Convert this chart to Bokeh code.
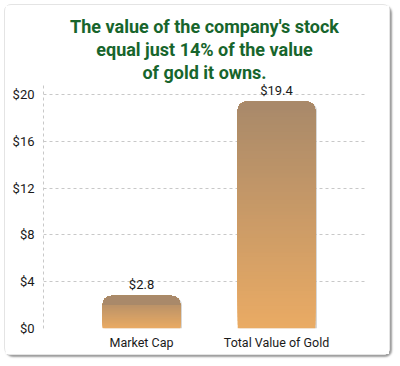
from bokeh.plotting import figure
from bokeh.models import ColumnDataSource, FixedTicker, Range1d, Title
from bokeh.core.properties import value
from bokeh.embed import file_html
from bokeh.resources import INLINE

# ---- data ----
categories = ["Market Cap", "Total Value of Gold"]
values = [2.8, 19.4]
value_labels = ["$2.8", "$19.4"]
y_ticks = [0, 4, 8, 12, 16, 20]
y_tick_labels = ["$0", "$4", "$8", "$12", "$16", "$20"]
title_lines = ["The value of the company's stock",
               "equal just 14% of the value",
               "of gold it owns."]

FONT = "Roboto"
GREEN = "#17652c"
TOP_RGB = (168, 137, 106)
BOT_RGB = (234, 171, 100)

p = figure(width=386, height=351, output_backend="svg", toolbar_location=None,
           x_range=Range1d(-0.726, 1.659), y_range=Range1d(0, 21.03),
           min_border_left=38, min_border_right=26, min_border_top=77, min_border_bottom=28,
           background_fill_color="white", border_fill_color="white")
p.outline_line_color = None
p.styles = {"border": "1px solid #e4e4e4", "border-radius": "7px",
            "box-shadow": "2px 2px 2px #9c9c9c",
            "margin-left": "4px", "margin-top": "4px"}

# title: added innermost first
for line in reversed(title_lines):
    p.add_layout(Title(text=line, align="center", offset=-7, standoff=0,
                       text_font=FONT, text_font_style="bold", text_font_size="18px",
                       text_color=GREEN), "above")

# subtle bar shadow
shadow_x = [i + 0.012 for i in range(len(values))]
p.vbar(x=shadow_x, top=[v - 0.05 for v in values], bottom=0, width=0.575,
       fill_color="#888888", fill_alpha=0.35, line_color=None, border_radius=(9, 9, 0, 0))

# gradient bars (layered, each with rounded top corners)
N = 60
px_per_unit = 11.7
radius = 9
r_units = radius / px_per_unit
xs, tops, bottoms, colors = [], [], [], []
for k in range(N, 0, -1):
    t = (k - 0.5) / N
    rgb = tuple(int(round(a + (b - a) * t)) for a, b in zip(TOP_RGB, BOT_RGB))
    col = "#%02x%02x%02x" % rgb
    for i, v in enumerate(values):
        xs.append(i)
        tops.append(v)
        bottoms.append(v - max(v * k / N, r_units))
        colors.append(col)
src = ColumnDataSource(dict(x=xs, top=tops, bottom=bottoms, color=colors))
p.vbar(x="x", top="top", bottom="bottom", width=0.575, source=src,
       fill_color="color", line_color=None, border_radius=(radius, radius, 0, 0))

# value labels
lsrc = ColumnDataSource(dict(x=list(range(len(categories))), y=values, t=value_labels))
p.text(x="x", y="y", text="t", source=lsrc, text_align="center", text_baseline="bottom",
       y_offset=-4, text_font=value(FONT), text_font_size="13px", text_color="#1a1a1a")

# axes
p.yaxis.ticker = FixedTicker(ticks=y_ticks)
p.yaxis.major_label_overrides = {t: l for t, l in zip(y_ticks, y_tick_labels)}
p.yaxis.major_tick_out = 0
p.yaxis.major_tick_in = 0
p.yaxis.minor_tick_out = 0
p.yaxis.minor_tick_in = 0
p.yaxis.axis_line_color = "#c8c8c8"
p.yaxis.axis_line_dash = "3 3"
p.yaxis.major_label_standoff = 9
p.yaxis.major_label_text_font = FONT
p.yaxis.major_label_text_font_size = "13px"
p.yaxis.major_label_text_color = "#1a1a1a"

p.xaxis.ticker = FixedTicker(ticks=list(range(len(categories))))
p.xaxis.major_label_overrides = {i: c for i, c in enumerate(categories)}
p.xaxis.axis_line_color = None
p.xaxis.major_tick_out = 0
p.xaxis.major_tick_in = 0
p.xaxis.minor_tick_out = 0
p.xaxis.minor_tick_in = 0
p.xaxis.major_label_standoff = 6
p.xaxis.major_label_text_font = FONT
p.xaxis.major_label_text_font_size = "12.5px"
p.xaxis.major_label_text_color = "#1a1a1a"

p.xgrid.grid_line_color = None
p.ygrid.ticker = FixedTicker(ticks=y_ticks)
p.ygrid.grid_line_color = "#c8c8c8"
p.ygrid.grid_line_dash = "3 3"

open("out.html", "w").write(file_html(p, INLINE))
